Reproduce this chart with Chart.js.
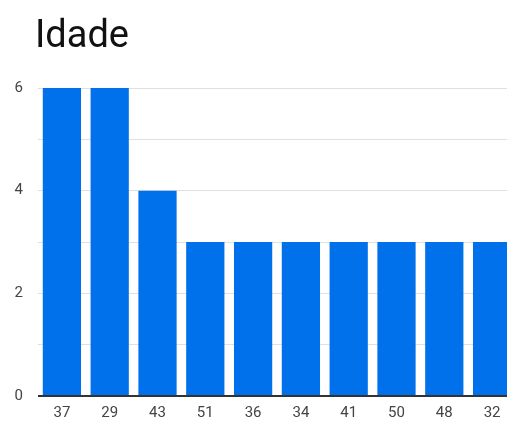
<!DOCTYPE html>
<html>
<head>
<meta charset="utf-8">
<script src="https://cdn.jsdelivr.net/npm/chart.js@4"></script>
<style>
  html, body { margin: 0; padding: 0; background: #fff; overflow: hidden; }
  #wrap { width: 516px; height: 422px; }
</style>
</head>
<body>
<div id="wrap"><canvas id="chart-bar" width="516" height="422"></canvas></div>
<script>
const idades = ["37", "29", "43", "51", "36", "34", "41", "50", "48", "32"];
const contagem = [6, 6, 4, 3, 3, 3, 3, 3, 3, 3];
const yTicks = [0, 2, 4, 6];
const titulo = "Idade";

// title drawn by hand so it can sit over the plot's left edge, like the original
const titlePlugin = {
  id: "tituloIdade",
  afterDraw(chart) {
    const c = chart.ctx;
    c.save();
    c.fillStyle = "#111";
    c.font = "400 38px Roboto";
    c.textBaseline = "alphabetic";
    c.fillText(titulo, 35, 47);
    c.restore();
  },
};

var ctx = document.getElementById("chart-bar").getContext("2d");
new Chart(ctx, {
  type: "bar",
  data: {
    labels: idades,
    datasets: [
      {
        label: titulo,
        data: contagem,
        backgroundColor: "#0070eb",
        borderWidth: 0,
        barPercentage: 0.8,
        categoryPercentage: 1,
      },
    ],
  },
  plugins: [titlePlugin],
  options: {
    responsive: false,
    animation: false,
    layout: {
      padding: { left: 14, right: 0, top: 88, bottom: 1 },
    },
    plugins: {
      legend: { display: false },
      tooltip: { enabled: false },
      title: { display: false },
    },
    scales: {
      y: {
        min: 0,
        max: 6,
        afterFit: (scale) => {
          scale.width = 24;
        },
        ticks: {
          stepSize: 1,
          padding: 15,
          color: "#444",
          font: { family: "Roboto", size: 15 },
          callback: (v) => (yTicks.includes(v) ? v : ""),
        },
        grid: {
          drawTicks: false,
          color: (c) => (c.tick.value === 0 ? "#333" : "#e0e0e0"),
          lineWidth: (c) => (c.tick.value === 0 ? 2 : 1),
        },
        border: { display: false },
      },
      x: {
        afterFit: (scale) => {
          scale.height = 25;
        },
        ticks: {
          color: "#444",
          padding: 8,
          maxRotation: 0,
          minRotation: 0,
          font: { family: "Roboto", size: 15 },
        },
        grid: { display: false, drawTicks: false },
        border: { display: false },
      },
    },
  },
});
</script>
</body>
</html>
